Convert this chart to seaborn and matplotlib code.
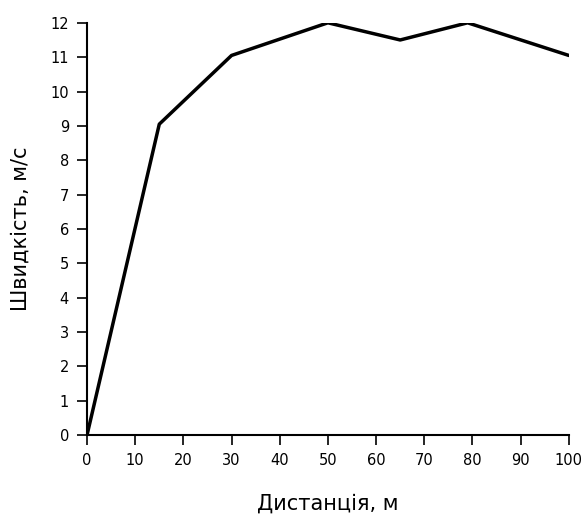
import matplotlib
matplotlib.use("Agg")
import matplotlib.pyplot as plt
import seaborn as sns
import pandas as pd

distance = [0, 15, 30, 50, 65, 79, 100]
speed = [0, 9.05, 11.05, 12.0, 11.5, 12.0, 11.05]
x_ticks = list(range(0, 101, 10))
y_ticks = list(range(0, 13))

sns.set_style("ticks")
plt.rcParams['font.family'] = ['DejaVu Sans']

df = pd.DataFrame({"x": distance, "y": speed})
fig = plt.figure(figsize=(5.84, 5.18), dpi=100)
ax = fig.add_axes([0.149, 0.160, 0.825, 0.796])
sns.lineplot(data=df, x="x", y="y", ax=ax, color="black", linewidth=2.5, sort=False)
ax.set_xlim(0, 100)
ax.set_ylim(0, 12)
ax.set_xticks(x_ticks)
ax.set_yticks(y_ticks)
ax.tick_params(labelsize=10.5, length=7, width=1.2, pad=6, color="black", labelcolor="black")
for s in ["top", "right"]:
    ax.spines[s].set_visible(False)
for s in ["left", "bottom"]:
    ax.spines[s].set_color("black")
    ax.spines[s].set_linewidth(1.5)
ax.set_xlabel("Дистанція, м", fontsize=15, color="black")
ax.set_ylabel("Швидкість, м/с", fontsize=15, color="black")
ax.xaxis.set_label_coords(0.5, -0.141)
ax.yaxis.set_label_coords(-0.118, 0.5)
for lbl in ax.get_xticklabels() + ax.get_yticklabels():
    lbl.set_clip_on(False)
fig.savefig("out.png", dpi=100)
